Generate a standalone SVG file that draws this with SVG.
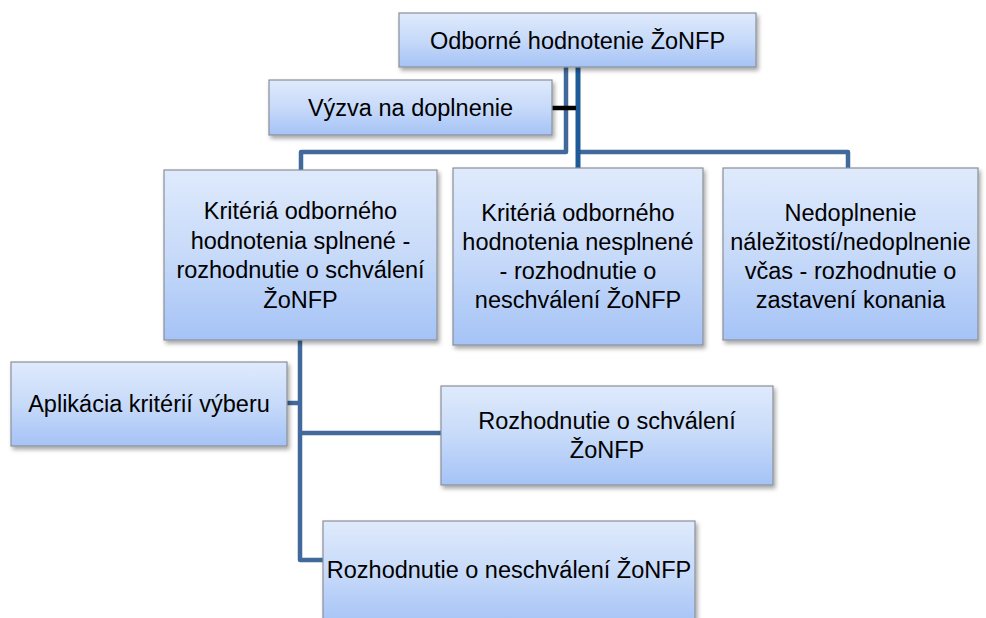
<svg xmlns="http://www.w3.org/2000/svg" width="986" height="618" viewBox="0 0 986 618">
<defs>
<linearGradient id="g" x1="0" y1="0" x2="0" y2="1">
<stop offset="0" stop-color="#dfeafc"/>
<stop offset="0.5" stop-color="#c7daf9"/>
<stop offset="1" stop-color="#a5c3f6"/>
</linearGradient>
<filter id="sh" x="-10%" y="-10%" width="125%" height="130%">
<feDropShadow dx="2" dy="3" stdDeviation="2" flood-color="#000" flood-opacity="0.35"/>
</filter>
<style>
.box{fill:url(#g);stroke:#8a8f98;stroke-width:1.2;filter:url(#sh)}
.t{font-family:"Liberation Sans",Arial,sans-serif;font-size:23.5px;fill:#000;text-anchor:middle}
.c{fill:none;stroke:#41699b;stroke-width:4.5;stroke-linejoin:round}
.d{fill:none;stroke:#1d5a98;stroke-width:5}
.k{fill:none;stroke:#000;stroke-width:4.5}
</style>
</defs>
<rect width="986" height="618" fill="#fff"/>
<g id="connectors">
<path class="c" d="M566,67 V152 H301 V170"/>
<path class="c" d="M578,152 H848 V168"/>
<path class="d" d="M578,67 V168"/>
<path class="k" d="M552,108 H576"/>
<path class="c" d="M300,340 V560 H323"/>
<path class="c" d="M287,403 H300"/>
<path class="c" d="M300,433 H441"/>
</g>
<g id="n1"><rect class="box" x="399" y="13" width="357" height="54"/><text class="t" x="577.5" y="48.5">Odborné hodnotenie ŽoNFP</text></g>
<g id="n2"><rect class="box" x="269" y="80" width="283" height="55"/><text class="t" x="410.5" y="115.5">Výzva na doplnenie</text></g>
<g id="n3"><rect class="box" x="164" y="170" width="273" height="170"/>
<text class="t" x="300.5" y="219">Kritériá odborného</text>
<text class="t" x="300.5" y="249">hodnotenia splnené -</text>
<text class="t" x="300.5" y="278">rozhodnutie o schválení</text>
<text class="t" x="300.5" y="308">ŽoNFP</text></g>
<g id="n4"><rect class="box" x="453" y="168" width="250" height="177"/>
<text class="t" x="578" y="221">Kritériá odborného</text>
<text class="t" x="578" y="250">hodnotenia nesplnené</text>
<text class="t" x="578" y="279">- rozhodnutie o</text>
<text class="t" x="578" y="308">neschválení ŽoNFP</text></g>
<g id="n5"><rect class="box" x="723" y="168" width="255" height="172"/>
<text class="t" x="850.5" y="221">Nedoplnenie</text>
<text class="t" x="850.5" y="250">náležitostí/nedoplnenie</text>
<text class="t" x="850.5" y="279">včas - rozhodnutie o</text>
<text class="t" x="850.5" y="308">zastavení konania</text></g>
<g id="n6"><rect class="box" x="11" y="362" width="276" height="84"/><text class="t" x="149" y="412">Aplikácia kritérií výberu</text></g>
<g id="n7"><rect class="box" x="441" y="386" width="332" height="99"/>
<text class="t" x="607" y="429">Rozhodnutie o schválení</text>
<text class="t" x="607" y="458">ŽoNFP</text></g>
<g id="n8"><rect class="box" x="323" y="521" width="372" height="104"/><text class="t" x="509" y="578">Rozhodnutie o neschválení ŽoNFP</text></g>
</svg>
